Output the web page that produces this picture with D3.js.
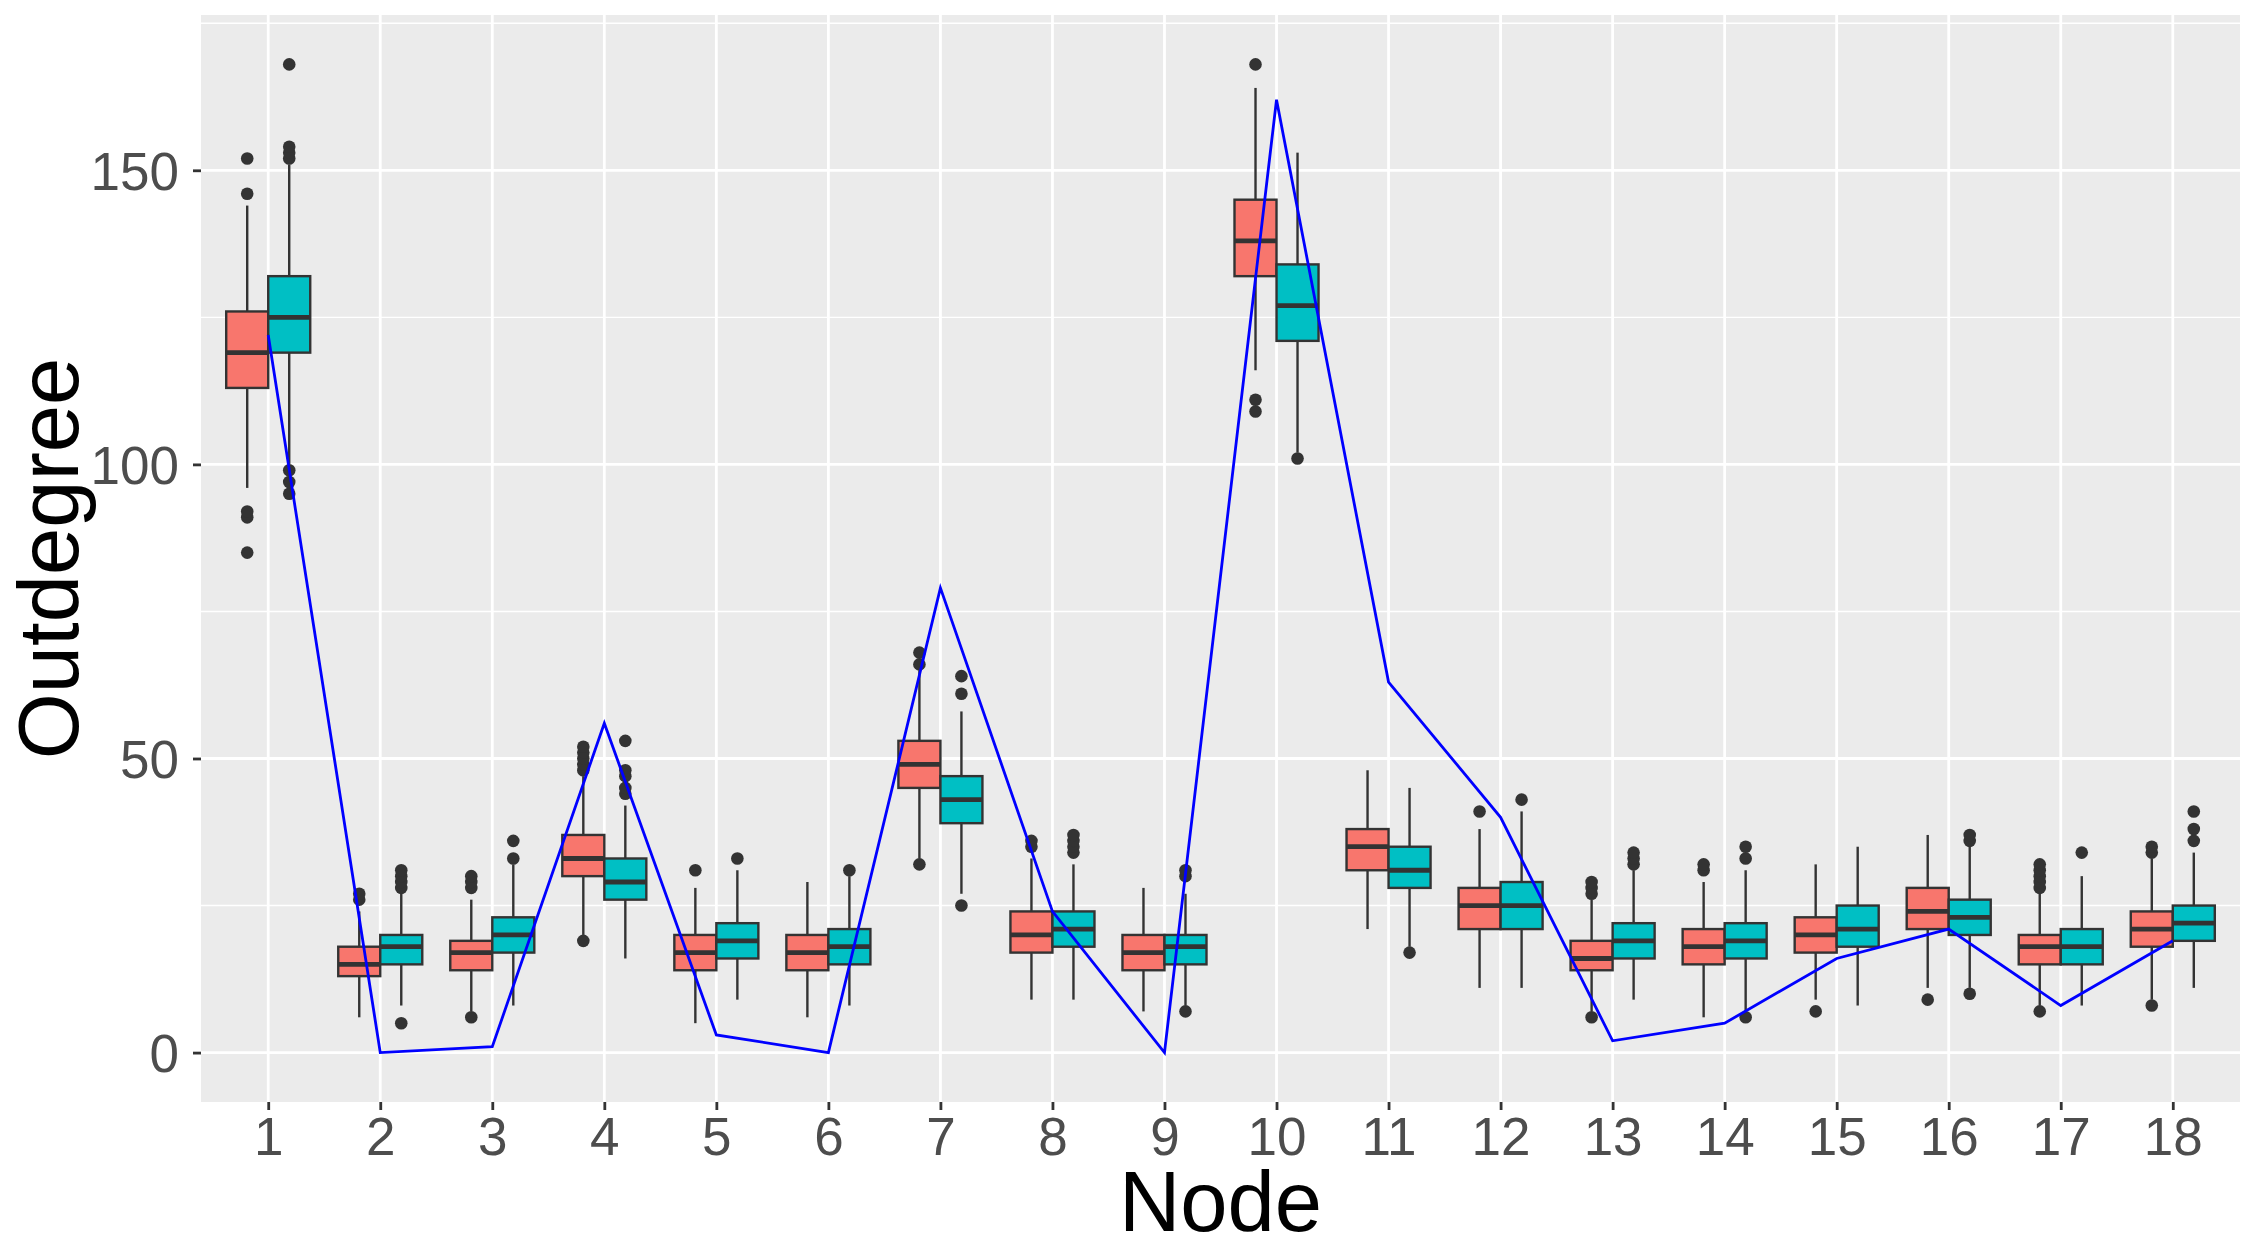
<!DOCTYPE html>
<html>
<head>
<meta charset="utf-8">
<script src="https://cdn.jsdelivr.net/npm/d3@7"></script>
<style>
  html, body { margin: 0; padding: 0; background: #ffffff; }
  svg { display: block; }
</style>
</head>
<body>
<svg id="chart"></svg>
<script>
// nodes on the x axis
const nodes = ["1", "2", "3", "4", "5", "6", "7", "8", "9", "10", "11", "12", "13", "14", "15", "16", "17", "18"];

// red boxes: whisker ends, quartiles, medians, outliers
const redLow    = [96, 6, 7, 20, 5, 6, 33, 9, 7, 116, 21, 11, 7, 6, 9, 11, 8, 9];
const redQ1     = [113, 13, 14, 30, 14, 14, 45, 17, 14, 132, 31, 21, 14, 15, 17, 21, 15, 18];
const redMedian = [119, 15, 17, 33, 17, 17, 49, 20, 17, 138, 35, 25, 16, 18, 20, 24, 18, 21];
const redQ3     = [126, 18, 19, 37, 20, 20, 53, 24, 20, 145, 38, 28, 19, 21, 23, 28, 20, 24];
const redHigh   = [144, 24, 26, 47, 28, 29, 65, 33, 28, 164, 48, 38, 26, 29, 32, 37, 27, 33];
const redOutliers = [
    [85, 91, 92, 146, 152], [26, 27], [6, 28, 29, 30], [19, 48, 49, 50, 51, 52],
    [31], [], [32, 66, 68], [35, 36], [], [109, 111, 168], [], [41],
    [6, 27, 28, 29], [31, 32], [7], [9], [7, 28, 29, 30, 31, 32], [8, 34, 35]
];

// cyan boxes
const cyanLow    = [100, 8, 8, 16, 9, 8, 27, 9, 8, 102, 18, 11, 9, 7, 8, 11, 8, 11];
const cyanQ1     = [119, 15, 17, 26, 16, 15, 39, 18, 15, 121, 28, 21, 16, 16, 18, 20, 15, 19];
const cyanMedian = [125, 18, 20, 29, 19, 18, 43, 21, 18, 127, 31, 25, 19, 19, 21, 23, 18, 22];
const cyanQ3     = [132, 20, 23, 33, 22, 21, 47, 24, 20, 134, 35, 29, 22, 22, 25, 26, 21, 25];
const cyanHigh   = [151, 27, 32, 42, 31, 30, 58, 32, 27, 153, 45, 41, 31, 31, 35, 35, 30, 34];
const cyanOutliers = [
    [95, 97, 99, 152, 153, 154, 168], [5, 28, 29, 30, 31], [33, 36], [44, 45, 47, 48, 53],
    [33], [31], [25, 61, 64], [34, 35, 36, 37], [7, 30, 31], [101], [17], [43],
    [32, 33, 34], [6, 33, 35], [], [10, 36, 37], [34], [36, 38, 41]
];

// blue line values
const lineValues = [122, 0, 1, 56, 3, 0, 79, 24, 0, 162, 63, 40, 2, 5, 16, 21, 8, 19];

// axis ticks
const yTicks = [0, 50, 100, 150];
const yMinorTicks = [25, 75, 125, 175];

const width = 2256;
const height = 1246;
const panel = { left: 201, right: 2240, top: 15, bottom: 1102 };

const svg = d3.select("#chart")
    .attr("width", width)
    .attr("height", height)
    .style("font-family", "Arial, 'Liberation Sans', Helvetica, sans-serif");

// y scale with ggplot-like 5% expansion
const allValues = [].concat(redLow, redHigh, cyanLow, cyanHigh, lineValues,
    redOutliers.flat(), cyanOutliers.flat());
const yMin = d3.min(allValues);
const yMax = d3.max(allValues);
const pad = (yMax - yMin) * 0.05;

const y = d3.scaleLinear()
    .domain([yMin - pad, yMax + pad])
    .range([panel.bottom, panel.top]);

const x = d3.scalePoint()
    .domain(nodes)
    .range([panel.left, panel.right])
    .padding(0.6);

const step = x.step();
const boxWidth = step * 0.75 / 2;

// panel background
svg.append("rect")
    .attr("x", panel.left)
    .attr("y", panel.top)
    .attr("width", panel.right - panel.left)
    .attr("height", panel.bottom - panel.top)
    .attr("fill", "#EBEBEB");

// grid lines
svg.append("g")
    .selectAll("line")
    .data(yMinorTicks.filter(d => y(d) >= panel.top))
    .enter()
    .append("line")
    .attr("x1", panel.left)
    .attr("x2", panel.right)
    .attr("y1", d => y(d))
    .attr("y2", d => y(d))
    .attr("stroke", "#ffffff")
    .attr("stroke-width", 1.4);

svg.append("g")
    .selectAll("line")
    .data(yTicks)
    .enter()
    .append("line")
    .attr("x1", panel.left)
    .attr("x2", panel.right)
    .attr("y1", d => y(d))
    .attr("y2", d => y(d))
    .attr("stroke", "#ffffff")
    .attr("stroke-width", 2.8);

svg.append("g")
    .selectAll("line")
    .data(nodes)
    .enter()
    .append("line")
    .attr("x1", d => x(d))
    .attr("x2", d => x(d))
    .attr("y1", panel.top)
    .attr("y2", panel.bottom)
    .attr("stroke", "#ffffff")
    .attr("stroke-width", 2.8);

// box plot rows
function buildRows(low, q1, median, q3, high, outliers, offset) {
    return nodes.map((node, i) => ({
        node: node,
        cx: x(node) + offset,
        low: low[i],
        q1: q1[i],
        median: median[i],
        q3: q3[i],
        high: high[i],
        outliers: outliers[i]
    }));
}

const series = [
    { fill: "#F8766D", rows: buildRows(redLow, redQ1, redMedian, redQ3, redHigh, redOutliers, -boxWidth / 2) },
    { fill: "#00BFC4", rows: buildRows(cyanLow, cyanQ1, cyanMedian, cyanQ3, cyanHigh, cyanOutliers, boxWidth / 2) }
];

const boxes = svg.append("g");

series.forEach(s => {
    const g = boxes.append("g");

    // outliers
    s.rows.forEach(r => {
        g.selectAll(null)
            .data(r.outliers)
            .enter()
            .append("circle")
            .attr("cx", r.cx)
            .attr("cy", d => y(d))
            .attr("r", 6.3)
            .attr("fill", "#333333");
    });

    // whiskers
    g.selectAll(".whisker-top")
        .data(s.rows)
        .enter()
        .append("line")
        .attr("x1", d => d.cx)
        .attr("x2", d => d.cx)
        .attr("y1", d => y(d.q3))
        .attr("y2", d => y(d.high))
        .attr("stroke", "#333333")
        .attr("stroke-width", 2.4);

    g.selectAll(".whisker-bottom")
        .data(s.rows)
        .enter()
        .append("line")
        .attr("x1", d => d.cx)
        .attr("x2", d => d.cx)
        .attr("y1", d => y(d.q1))
        .attr("y2", d => y(d.low))
        .attr("stroke", "#333333")
        .attr("stroke-width", 2.4);

    // boxes
    g.selectAll(".box")
        .data(s.rows)
        .enter()
        .append("rect")
        .attr("x", d => d.cx - boxWidth / 2)
        .attr("y", d => y(d.q3))
        .attr("width", boxWidth)
        .attr("height", d => y(d.q1) - y(d.q3))
        .attr("fill", s.fill)
        .attr("stroke", "#333333")
        .attr("stroke-width", 2.4);

    // medians
    g.selectAll(".median")
        .data(s.rows)
        .enter()
        .append("line")
        .attr("x1", d => d.cx - boxWidth / 2)
        .attr("x2", d => d.cx + boxWidth / 2)
        .attr("y1", d => y(d.median))
        .attr("y2", d => y(d.median))
        .attr("stroke", "#333333")
        .attr("stroke-width", 4.8);
});

// blue line
const line = d3.line()
    .x((d, i) => x(nodes[i]))
    .y(d => y(d));

svg.append("path")
    .datum(lineValues)
    .attr("fill", "none")
    .attr("stroke", "#0000FF")
    .attr("stroke-width", 2.8)
    .attr("d", line);

// y axis
const yAxis = svg.append("g")
    .attr("transform", `translate(${panel.left},0)`)
    .call(d3.axisLeft(y).tickValues(yTicks).tickSize(8).tickPadding(14));

// x axis
const xAxis = svg.append("g")
    .attr("transform", `translate(0,${panel.bottom})`)
    .call(d3.axisBottom(x).tickSize(8).tickPadding(7));

[yAxis, xAxis].forEach(a => {
    a.select(".domain").remove();
    a.selectAll(".tick line")
        .attr("stroke", "#333333")
        .attr("stroke-width", 2.8);
    a.selectAll(".tick text")
        .attr("fill", "#4D4D4D")
        .style("font-size", "53px")
        .style("font-family", "Arial, 'Liberation Sans', Helvetica, sans-serif");
});

yAxis.selectAll(".tick text").attr("dy", "0.36em");
xAxis.selectAll(".tick text").attr("dy", "0.72em");

// axis titles
svg.append("text")
    .attr("x", (panel.left + panel.right) / 2)
    .attr("y", 1231)
    .attr("text-anchor", "middle")
    .style("font-size", "85px")
    .style("fill", "#000000")
    .text("Node");

svg.append("text")
    .attr("transform", `translate(78,${(panel.top + panel.bottom) / 2}) rotate(-90)`)
    .attr("text-anchor", "middle")
    .style("font-size", "85px")
    .style("fill", "#000000")
    .text("Outdegree");
</script>
</body>
</html>
